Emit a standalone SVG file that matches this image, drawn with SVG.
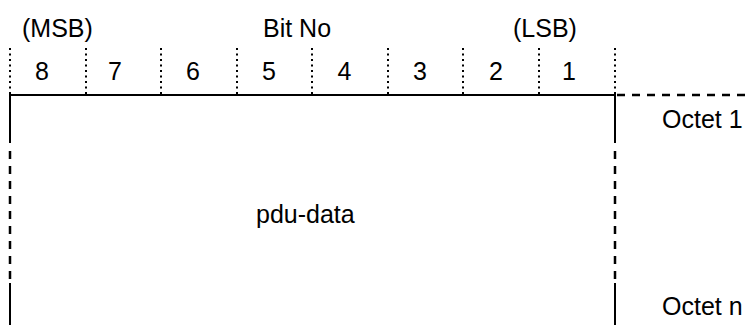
<svg xmlns="http://www.w3.org/2000/svg" width="751" height="325" viewBox="0 0 751 325">
<style>
text{font-family:"Liberation Sans",Arial,sans-serif;font-size:25px;fill:#000}
.tick{stroke:#000;stroke-width:2;stroke-dasharray:2,3.5;fill:none}
.solid{stroke:#000;stroke-width:2;fill:none}
.dash{stroke:#000;stroke-width:2.5;stroke-dasharray:8,7;fill:none}
.d{text-anchor:middle}
</style>
<rect width="751" height="325" fill="#fff"/>
<g id="header">
<text x="22" y="37">(MSB)</text>
<text x="263" y="37">Bit No</text>
<text x="513" y="37">(LSB)</text>
</g>
<g id="bits">
<path class="tick" d="M10 48V95M86 48V95M161 48V95M237 48V95M312 48V95M388 48V95M463 48V95M539 48V95M615 48V95"/>
<text class="d" x="42" y="80">8</text>
<text class="d" x="115" y="80">7</text>
<text class="d" x="193" y="80">6</text>
<text class="d" x="269" y="80">5</text>
<text class="d" x="344.5" y="80">4</text>
<text class="d" x="420" y="80">3</text>
<text class="d" x="496" y="80">2</text>
<text class="d" x="569" y="80">1</text>
</g>
<g id="pdu">
<path class="solid" d="M10 143V95H615V143"/>
<path class="dash" d="M10 151V283M615 151V283"/>
<path class="solid" d="M10 283V325M615 283V325"/>
<text x="256" y="223">pdu-data</text>
</g>
<g id="connectors">
<path class="dash" d="M617 95H751"/>
</g>
<g id="labels">
<text x="662" y="128">Octet 1</text>
<text x="662" y="315">Octet n</text>
</g>
</svg>
